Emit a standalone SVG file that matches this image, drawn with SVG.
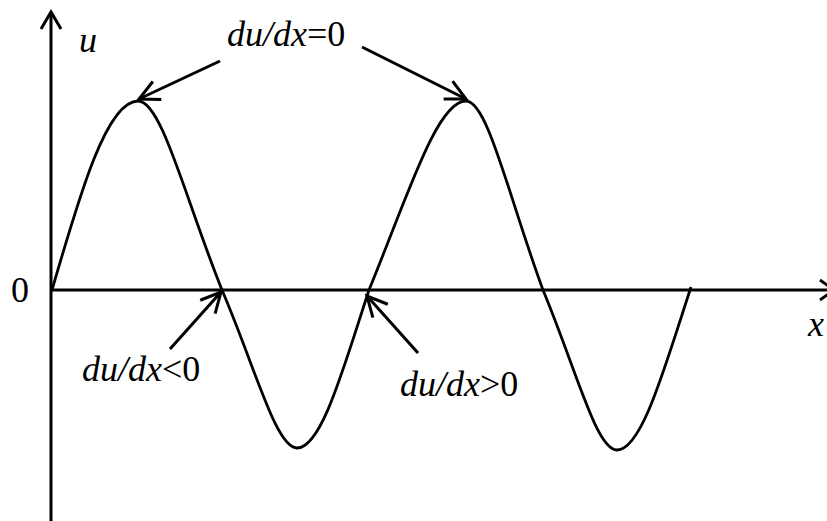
<svg xmlns="http://www.w3.org/2000/svg" width="827" height="521" viewBox="0 0 827 521">
<style>
.ln{fill:none;stroke:#000;stroke-width:3;stroke-linecap:butt;stroke-linejoin:miter}
.crv{fill:none;stroke:#000;stroke-width:2.8}
.t{font-family:"Liberation Serif","Times New Roman",serif;font-size:36px;fill:#000}
.i{font-style:italic}
</style>
<defs>
<marker id="open" markerUnits="userSpaceOnUse" markerWidth="30" markerHeight="30" viewBox="-25 -15 30 30" refX="0" refY="0" orient="auto">
<path d="M -20 -10 L 0 0 L -20 10" fill="none" stroke="#000" stroke-width="3"/>
</marker>
</defs>
<rect width="827" height="521" fill="#fff"/>
<g id="axes">
<line class="ln" x1="51" y1="521" x2="51" y2="13"/>
<polyline class="ln" points="41,29 51,12 61,29"/>
<line class="ln" x1="51" y1="290" x2="832" y2="290"/>
<polyline class="ln" points="820,280 834,290 820,300"/>
</g>
<g id="curve">
<path class="crv" d="M 52 290 C 80 193.2 106.9 101 138 101 C 161.5 101 184.2 195.5 222 290 C 255.8 369 276 448 297 448 C 321.5 448 343.1 369 369 290 C 407.8 195.5 436.9 101 466 101 C 487.6 101 508.3 195.5 543 290 C 576.3 370 596.3 450 617 450 C 641.8 450 664.5 368 691 287"/>
</g>
<g id="connectors">
<line class="ln" x1="220" y1="61" x2="139" y2="99" marker-end="url(#open)"/>
<line class="ln" x1="362" y1="47" x2="466" y2="99" marker-end="url(#open)"/>
<line class="ln" x1="170" y1="349" x2="221" y2="292" marker-end="url(#open)"/>
<line class="ln" x1="418" y1="353" x2="367" y2="296" marker-end="url(#open)"/>
</g>
<g id="labels">
<text class="t i" x="79" y="52">u</text>
<text class="t" x="11" y="302">0</text>
<text class="t i" x="808" y="336">x</text>
<text class="t" x="227" y="46"><tspan class="i">du</tspan><tspan class="i">/</tspan><tspan class="i">dx</tspan>=0</text>
<text class="t" x="82" y="381"><tspan class="i">du</tspan><tspan class="i">/</tspan><tspan class="i">dx</tspan>&lt;0</text>
<text class="t" x="400" y="396"><tspan class="i">du</tspan><tspan class="i">/</tspan><tspan class="i">dx</tspan>&gt;0</text>
</g>
</svg>
